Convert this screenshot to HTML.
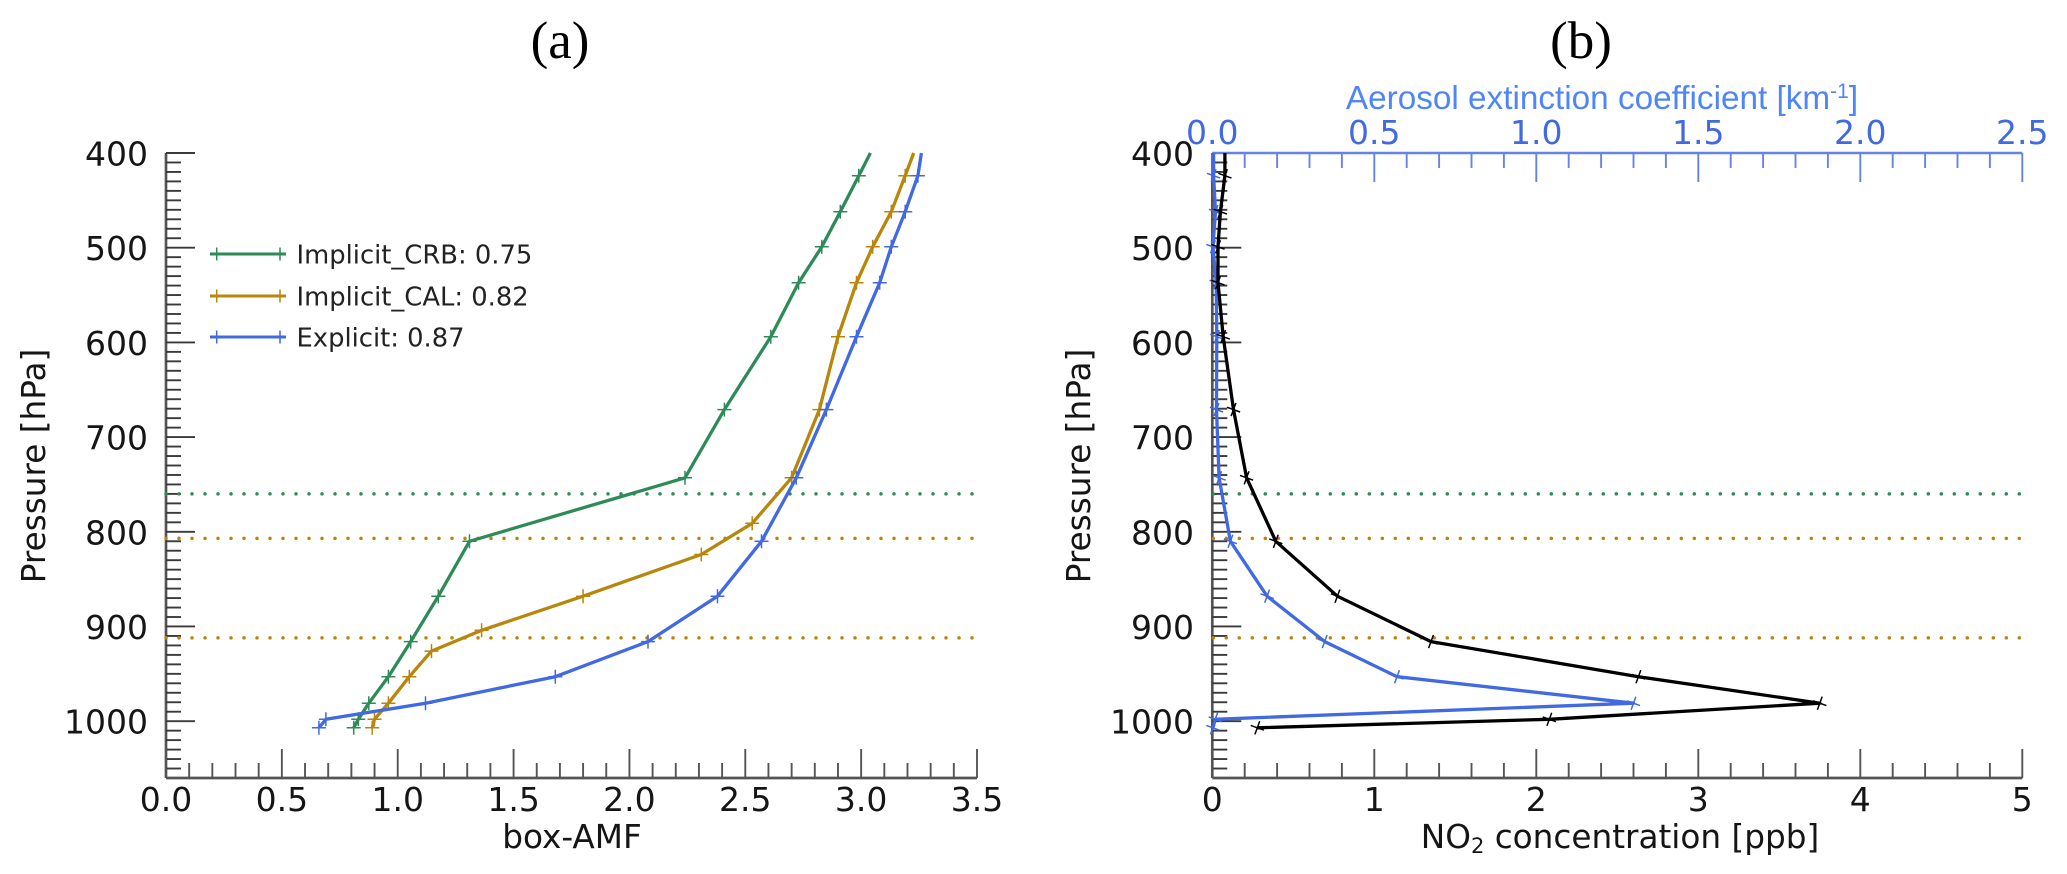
<!DOCTYPE html>
<html lang="en">
<head>
<meta charset="utf-8">
<title>Box-AMF and NO2 profiles</title>
<style>
html,body{margin:0;padding:0;background:#fff;width:2067px;height:874px;overflow:hidden}
svg{display:block}
text{font-family:"DejaVu Sans",sans-serif;fill:#151515}
.title{font-family:"Liberation Serif",serif;font-size:53px;text-anchor:middle;fill:#000}
.tick{font-size:33px}
.axis-title{font-size:32.7px;text-anchor:middle}
.legend-text{font-size:25.8px;fill:#222}
</style>
</head>
<body>
<svg id="chart" xmlns="http://www.w3.org/2000/svg" width="2067" height="874" viewBox="0 0 2067 874">
<rect width="2067" height="874" fill="#fff"/>
<text class="title" x="560" y="58">(a)</text>
<text class="title" x="1581" y="58">(b)</text>
<text class="axis-title" transform="translate(45,466) rotate(-90)">Pressure [hPa]</text>
<text class="axis-title" transform="translate(1090,466) rotate(-90)">Pressure [hPa]</text>
<text class="axis-title" x="572" y="848">box-AMF</text>
<text class="axis-title" x="1620" y="848">NO<tspan font-size="21" dy="5">2</tspan><tspan dy="-5"> concentration [ppb]</tspan></text>
<text x="1602" y="109" text-anchor="middle" style="font-family:'Liberation Sans',sans-serif;font-size:33.3px;fill:#4f86f7">Aerosol extinction coefficient [km<tspan font-size="21" dy="-11">-1</tspan><tspan dy="11">]</tspan></text>
<g id="layer"></g>
</svg>
<script>
/* ---------- data ---------- */
const crbPressure = [400,424,462,499,537,594,671,743,810,868,916,953,981,998,1007];
const crbAmf      = [3.04,2.99,2.91,2.83,2.73,2.61,2.41,2.24,1.31,1.175,1.056,0.96,0.875,0.83,0.81];
const calPressure = [400,424,462,499,537,594,671,743,791,824,868,904,926,953,981,998,1007];
const calAmf      = [3.227,3.19,3.13,3.05,2.98,2.90,2.82,2.70,2.53,2.31,1.80,1.362,1.146,1.05,0.96,0.90,0.89];
const expPressure = [400,424,462,499,537,594,671,743,810,868,916,953,981,998,1007];
const expAmf      = [3.26,3.245,3.19,3.13,3.08,2.98,2.85,2.72,2.57,2.38,2.08,1.68,1.12,0.69,0.66];

const profilePressure = [400,424,462,499,537,594,671,743,810,868,916,953,981,998,1007];
const no2Ppb          = [0.078,0.078,0.05,0.035,0.035,0.067,0.131,0.212,0.392,0.772,1.35,2.63,3.75,2.08,0.278];
const aerosolExt      = [0.004,0.004,0.01,0.002,0.012,0.014,0.013,0.021,0.056,0.169,0.347,0.57,1.30,0.009,0.002];

const cloudPressureGreen = [760];
const cloudPressureGold  = [807,912];

const pressureTicks = [400,500,600,700,800,900,1000];
const amfTickLabels = ["0.0","0.5","1.0","1.5","2.0","2.5","3.0","3.5"];
const no2TickLabels = ["0","1","2","3","4","5"];
const extTickLabels = ["0.0","0.5","1.0","1.5","2.0","2.5"];

const legendLabels = ["Implicit_CRB: 0.75","Implicit_CAL: 0.82","Explicit: 0.87"];

/* ---------- colours ---------- */
const GREEN="#2e8b57", GOLD="#b8860b", BLUE="#4169e1", AXIS="#555", TOPBLUE="#6484e6";
const NS="http://www.w3.org/2000/svg";
const layer=document.getElementById('layer');

/* ---------- axis functions ---------- */
const PTOP=400, PBOTTOM=1060, YTOP=153, YBOTTOM=778;
function yScale(p){return YTOP+(p-PTOP)*(YBOTTOM-YTOP)/(PBOTTOM-PTOP);}
const LEFT_X0=166, LEFT_X1=977, RIGHT_X0=1212.3, RIGHT_X1=2022.3;
function xAmf(v){return LEFT_X0+v*(LEFT_X1-LEFT_X0)/3.5;}
function xNo2(v){return RIGHT_X0+v*(RIGHT_X1-RIGHT_X0)/5;}
function xExt(v){return RIGHT_X0+v*(RIGHT_X1-RIGHT_X0)/2.5;}

function line(x1,y1,x2,y2,color,w){
  const el=document.createElementNS(NS,'line');
  el.setAttribute('x1',x1);el.setAttribute('y1',y1);el.setAttribute('x2',x2);el.setAttribute('y2',y2);
  el.setAttribute('stroke',color);el.setAttribute('stroke-width',w);
  layer.appendChild(el);
  return el;
}
function label(x,y,str,anchor,color){
  const el=document.createElementNS(NS,'text');
  el.setAttribute('class','tick');
  el.setAttribute('x',x);el.setAttribute('y',y);el.setAttribute('text-anchor',anchor);
  el.setAttribute('style','fill:'+color);
  el.textContent=str;
  layer.appendChild(el);
  return el;
}
function yAxis(x0,prefix,labelX){
  const spine=line(x0,YTOP,x0,YBOTTOM,AXIS,2.7);
  
  
  for(let p=PTOP;p<=1050;p+=10){
    const major=pressureTicks.indexOf(p)>=0;
    const t=line(x0,yScale(p),x0+(major?29:15),yScale(p),'#3a3a3a',1.9);
    
    
  }
  pressureTicks.forEach(p=>{
    const l=label(labelX,yScale(p)+12.5,String(p),'end','#151515');
    
    
  });
}
function xAxis(labels,scale,majorStep,minorStep,y,dir,color,prefix,labelY,axisW){
  const last=parseFloat(labels[labels.length-1]);
  const spine=line(scale(0),y,scale(last),y,color,axisW);
  
  
  const n=Math.round(last/minorStep), every=Math.round(majorStep/minorStep);
  for(let i=0;i<=n;i++){
    const x=scale(i*minorStep);
    const t=line(x,y,x,y+dir*(i%every===0?29:15),color,1.9);
    
    
  }
  labels.forEach(s=>{
    const l=label(scale(parseFloat(s)),labelY,s,'middle',color===AXIS?'#151515':BLUE);
    
    
  });
}
function dotted(x0,x1,p,color,prefix){
  const y=yScale(p);
  const d=line(x0,y,x1,y,color,3.5);
  d.setAttribute('stroke-dasharray','0 13');
  d.setAttribute('stroke-linecap','round');
  
  
}
function series(xs,ps,scale,color,name,rot){
  const pl=document.createElementNS(NS,'polyline');
  pl.setAttribute('points',xs.map((v,i)=>scale(v).toFixed(1)+','+yScale(ps[i]).toFixed(1)).join(' '));
  pl.setAttribute('fill','none');
  pl.setAttribute('stroke',color);
  pl.setAttribute('stroke-width',3.3);
  pl.setAttribute('stroke-linejoin','round');
  
  
  layer.appendChild(pl);
  xs.forEach((v,i)=>{
    if(ps[i]<=PTOP) return;
    const x=scale(v), y=yScale(ps[i]);
    const m=document.createElementNS(NS,'path');
    m.setAttribute('d','M-7 0H7M0 -7V7');
    m.setAttribute('transform','translate('+x.toFixed(1)+','+y.toFixed(1)+') rotate('+rot+')');
    m.setAttribute('stroke',color);
    m.setAttribute('stroke-width',1.5);
    m.setAttribute('fill','none');
    
    
    layer.appendChild(m);
  });
}

/* ---------- panel a ---------- */
yAxis(LEFT_X0,'panel-a',148);
xAxis(amfTickLabels,xAmf,0.5,0.1,YBOTTOM,-1,AXIS,'panel-a-x',811,2.7);
cloudPressureGreen.forEach(p=>dotted(LEFT_X0,LEFT_X1-4,p,GREEN,'panel-a-green'));
cloudPressureGold.forEach(p=>dotted(LEFT_X0,LEFT_X1-4,p,GOLD,'panel-a-gold'));
series(crbAmf,crbPressure,xAmf,GREEN,'implicit-crb',0);
series(calAmf,calPressure,xAmf,GOLD,'implicit-cal',0);
series(expAmf,expPressure,xAmf,BLUE,'explicit',0);

/* ---------- panel b ---------- */
yAxis(RIGHT_X0,'panel-b',1194);
xAxis(no2TickLabels,xNo2,1,0.2,YBOTTOM,-1,AXIS,'panel-b-x',811,2.7);
xAxis(extTickLabels,xExt,0.5,0.1,YTOP,1,TOPBLUE,'panel-b-top',144,2.4);
cloudPressureGreen.forEach(p=>dotted(RIGHT_X0+1,RIGHT_X1,p,GREEN,'panel-b-green'));
cloudPressureGold.forEach(p=>dotted(RIGHT_X0+1,RIGHT_X1,p,GOLD,'panel-b-gold'));
series(aerosolExt,profilePressure,xExt,BLUE,'aerosol-extinction',20);
series(no2Ppb,profilePressure,xNo2,'#000','no2-concentration',20);

/* ---------- legend ---------- */
const legendColors=[GREEN,GOLD,BLUE];
legendLabels.forEach((s,i)=>{
  const y=[254,296,337][i];
  const l=line(210,y,286,y,legendColors[i],2.9);
  
  
  [216.7,280].forEach(x=>{
    const t=line(x,y-6.5,x,y+6.5,legendColors[i],1.5);
    
    
  });
  const txt=document.createElementNS(NS,'text');
  txt.setAttribute('class','legend-text');
  txt.setAttribute('x',296.5);
  txt.setAttribute('y',y+9.5);
  txt.textContent=s;
  
  
  layer.appendChild(txt);
});
</script>
</body>
</html>
